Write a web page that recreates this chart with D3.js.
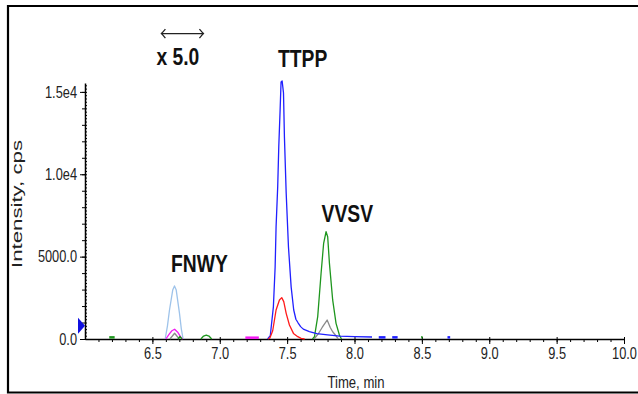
<!DOCTYPE html>
<html>
<head>
<meta charset="utf-8">
<script src="https://cdn.jsdelivr.net/npm/d3@7"></script>
<style>
  body { margin: 0; background: #fff; }
  svg { display: block; }
</style>
</head>
<body>
<script>
// Chromatogram data: [time (min), intensity (cps)]
const ttppBlue = [
  [7.355, 0], [7.375, 200], [7.398, 1950], [7.411, 4370], [7.418, 6800], [7.43, 9230],
  [7.438, 11660], [7.448, 13900], [7.455, 15600], [7.463, 15660], [7.473, 14940],
  [7.48, 12260], [7.493, 8860], [7.51, 5580], [7.53, 3150], [7.549, 1760], [7.565, 1200],
  [7.58, 1000], [7.6, 750], [7.62, 600], [7.665, 450], [7.72, 330], [7.8, 250],
  [7.89, 170], [8.0, 140], [8.13, 120]
];
const ttppRed = [
  [7.36, 0], [7.372, 60], [7.393, 500], [7.418, 1760], [7.443, 2370], [7.46, 2510],
  [7.475, 2270], [7.493, 1560], [7.517, 850], [7.547, 340], [7.579, 140], [7.604, 40], [7.63, 0]
];
const vvsvGreen = [
  [7.688, 0], [7.703, 140], [7.727, 1360], [7.752, 3990], [7.771, 5810], [7.789, 6510],
  [7.801, 6210], [7.814, 4590], [7.838, 2370], [7.863, 950], [7.888, 240], [7.903, 0]
];
const vvsvGray = [
  [7.7, 0], [7.734, 350], [7.76, 700], [7.797, 1150], [7.82, 700], [7.838, 440], [7.864, 180], [7.88, 0]
];
const fnwyLightBlue = [
  [6.595, 0], [6.612, 800], [6.627, 1760], [6.651, 2970], [6.664, 3220], [6.677, 2970],
  [6.701, 1570], [6.715, 600], [6.728, 0]
];
const fnwyMagenta = [
  [6.6, 0], [6.625, 300], [6.645, 500], [6.665, 590], [6.69, 390], [6.712, 100], [6.725, 0]
];
const fnwyGray = [[6.63, 0], [6.665, 350], [6.7, 0]];
const fnwyGreen = [[6.69, 0], [6.705, 150], [6.72, 0]];
const greenBump = [[6.86, 0], [6.88, 180], [6.9, 240], [6.92, 180], [6.94, 0]];
const greenBits = [[[6.18, 100], [6.22, 100]], [[8.495, 100], [8.505, 100]]];
const blueBits = [[[8.18, 100], [8.23, 100]], [[8.28, 100], [8.32, 100]], [[8.69, 100], [8.71, 100]]];
const magentaBits = [[[7.19, 80], [7.29, 80]]];

const xTicks = [6.5, 7.0, 7.5, 8.0, 8.5, 9.0, 9.5, 10.0];
const xTickLabels = ["6.5", "7.0", "7.5", "8.0", "8.5", "9.0", "9.5", "10.0"];
const yTicks = [0, 5000, 10000, 15000];
const yTickLabels = ["0.0", "5000.0", "1.0e4", "1.5e4"];

// Peak labels: text, time, intensity of baseline anchor
const labels = [
  { text: "TTPP", t: 7.615, v: 16500, anchor: "middle" },
  { text: "VVSV", t: 7.947, v: 7100, anchor: "middle" },
  { text: "FNWY", t: 6.849, v: 4070, anchor: "middle" },
  { text: "x 5.0", t: 6.53, v: 16640, anchor: "start" }
];
const zoomRange = [6.567, 6.879];
const markerLevel = 800;

const FONT = '"Liberation Sans", Arial, sans-serif';

const W = 638, H = 394;
const margin = { top: 83, right: 14, bottom: 55, left: 85 },
  width = W - margin.left - margin.right,
  height = H - margin.top - margin.bottom;

// the source uses a condensed face, so squeeze text horizontally
function squeeze(sel, sx) {
  sel.each(function () {
    const t = d3.select(this);
    const x0 = +t.attr("x") || 0;
    t.attr("x", x0 / sx).attr("transform", `scale(${sx},1)`);
  });
}

const root = d3.select("body").append("svg").attr("width", W).attr("height", H);

// outer frame (right edge runs off the picture)
root.append("path")
  .attr("d", `M${W + 5},6 H8 V392.5 H${W + 5}`)
  .attr("fill", "none")
  .attr("stroke", "#000")
  .attr("stroke-width", 2.2);

const svg = root.append("g").attr("transform", `translate(${margin.left},${margin.top})`);

const x = d3.scaleLinear().domain([6.0, 10.0]).range([0, width]);
const y = d3.scaleLinear().domain([0, 15540]).range([height, 0]);

// x axis: minor ticks every 0.1, major every 0.5
svg.append("g")
  .attr("transform", `translate(0,${height})`)
  .call(d3.axisBottom(x).tickValues(d3.range(6.1, 10.01, 0.1)).tickSize(3).tickFormat(""))
  .call((g) => g.select(".domain").remove());

const xAxis = svg.append("g")
  .attr("transform", `translate(0,${height})`)
  .call(d3.axisBottom(x).tickValues(xTicks).tickSize(5).tickSizeOuter(0).tickPadding(4)
    .tickFormat((d, i) => xTickLabels[i]));
xAxis.select(".domain").attr("stroke-width", 1.5);
xAxis.selectAll(".tick line").attr("y1", -2);

// y axis: dense minor ticks, medium every 1000, major labelled
svg.append("g")
  .call(d3.axisRight(y).tickValues(d3.range(0, 15500, 200)).tickSize(2).tickFormat(""))
  .call((g) => g.select(".domain").remove());
svg.append("g")
  .call(d3.axisLeft(y).tickValues(d3.range(0, 15500, 1000)).tickSize(3).tickFormat(""))
  .call((g) => g.select(".domain").remove());
const yAxis = svg.append("g")
  .call(d3.axisLeft(y).tickValues(yTicks).tickSize(5).tickSizeOuter(0).tickPadding(3)
    .tickFormat((d, i) => yTickLabels[i]));
yAxis.select(".domain").attr("stroke-width", 1.5);

svg.selectAll(".tick text")
  .style("font-family", FONT)
  .style("font-size", "16px")
  .attr("fill", "#222")
  .call(squeeze, 0.8);

// axis titles
root.append("text")
  .attr("x", 356)
  .attr("y", 388)
  .attr("text-anchor", "middle")
  .style("font-family", FONT)
  .style("font-size", "16px")
  .attr("fill", "#222")
  .text("Time, min")
  .call(squeeze, 0.82);

root.append("text")
  .attr("transform", "translate(22,204) rotate(-90)")
  .attr("text-anchor", "middle")
  .attr("textLength", 128)
  .attr("lengthAdjust", "spacingAndGlyphs")
  .style("font-family", FONT)
  .style("font-size", "15.5px")
  .attr("fill", "#222")
  .text("Intensity, cps");

// level marker at the left of the y axis
const my = y(markerLevel);
svg.append("path")
  .attr("d", `M-7,${my - 8} L0,${my} L-7,${my + 8} Z`)
  .attr("fill", "#1010e0");

// traces
const line = d3.line().x((d) => x(d[0])).y((d) => y(d[1]));

const traces = [
  { data: [fnwyLightBlue], color: "#9ec3ea" },
  { data: [fnwyGray, vvsvGray], color: "#8a8a8a" },
  { data: [fnwyMagenta], color: "#f21af2" },
  { data: [fnwyGreen, greenBump, vvsvGreen], color: "#1e961e" },
  { data: greenBits, color: "#1e961e", w: 2.5 },
  { data: magentaBits, color: "#f21af2", w: 2.5 },
  { data: [ttppBlue], color: "#2020ff" },
  { data: blueBits, color: "#2020ff", w: 2.5 },
  { data: [ttppRed], color: "#ff1a1a" }
];

traces.forEach((tr) => {
  svg.append("g")
    .selectAll("path")
    .data(tr.data)
    .join("path")
    .attr("d", line)
    .attr("fill", "none")
    .attr("stroke", tr.color)
    .attr("stroke-width", tr.w || 1.3)
    .attr("stroke-linejoin", "round");
});

// peak labels
svg.selectAll(".peak-label")
  .data(labels)
  .join("text")
  .attr("class", "peak-label")
  .attr("x", (d) => x(d.t))
  .attr("y", (d) => y(d.v))
  .attr("text-anchor", (d) => d.anchor)
  .style("font-family", FONT)
  .style("font-weight", "bold")
  .style("font-size", "23px")
  .attr("fill", "#111")
  .text((d) => d.text)
  .call(squeeze, 0.84);

// double arrow marking the magnified range
const ay = y(18540);
const ax0 = x(zoomRange[0]), ax1 = x(zoomRange[1]);
svg.append("path")
  .attr("d", `M${ax0},${ay} H${ax1} M${ax0 + 4},${ay - 4.5} Q${ax0 + 1},${ay - 1} ${ax0},${ay} Q${ax0 + 1},${ay + 1} ${ax0 + 4},${ay + 4.5} M${ax1 - 4},${ay - 4.5} Q${ax1 - 1},${ay - 1} ${ax1},${ay} Q${ax1 - 1},${ay + 1} ${ax1 - 4},${ay + 4.5}`)
  .attr("fill", "none")
  .attr("stroke", "#222")
  .attr("stroke-width", 1.3);
</script>
</body>
</html>
